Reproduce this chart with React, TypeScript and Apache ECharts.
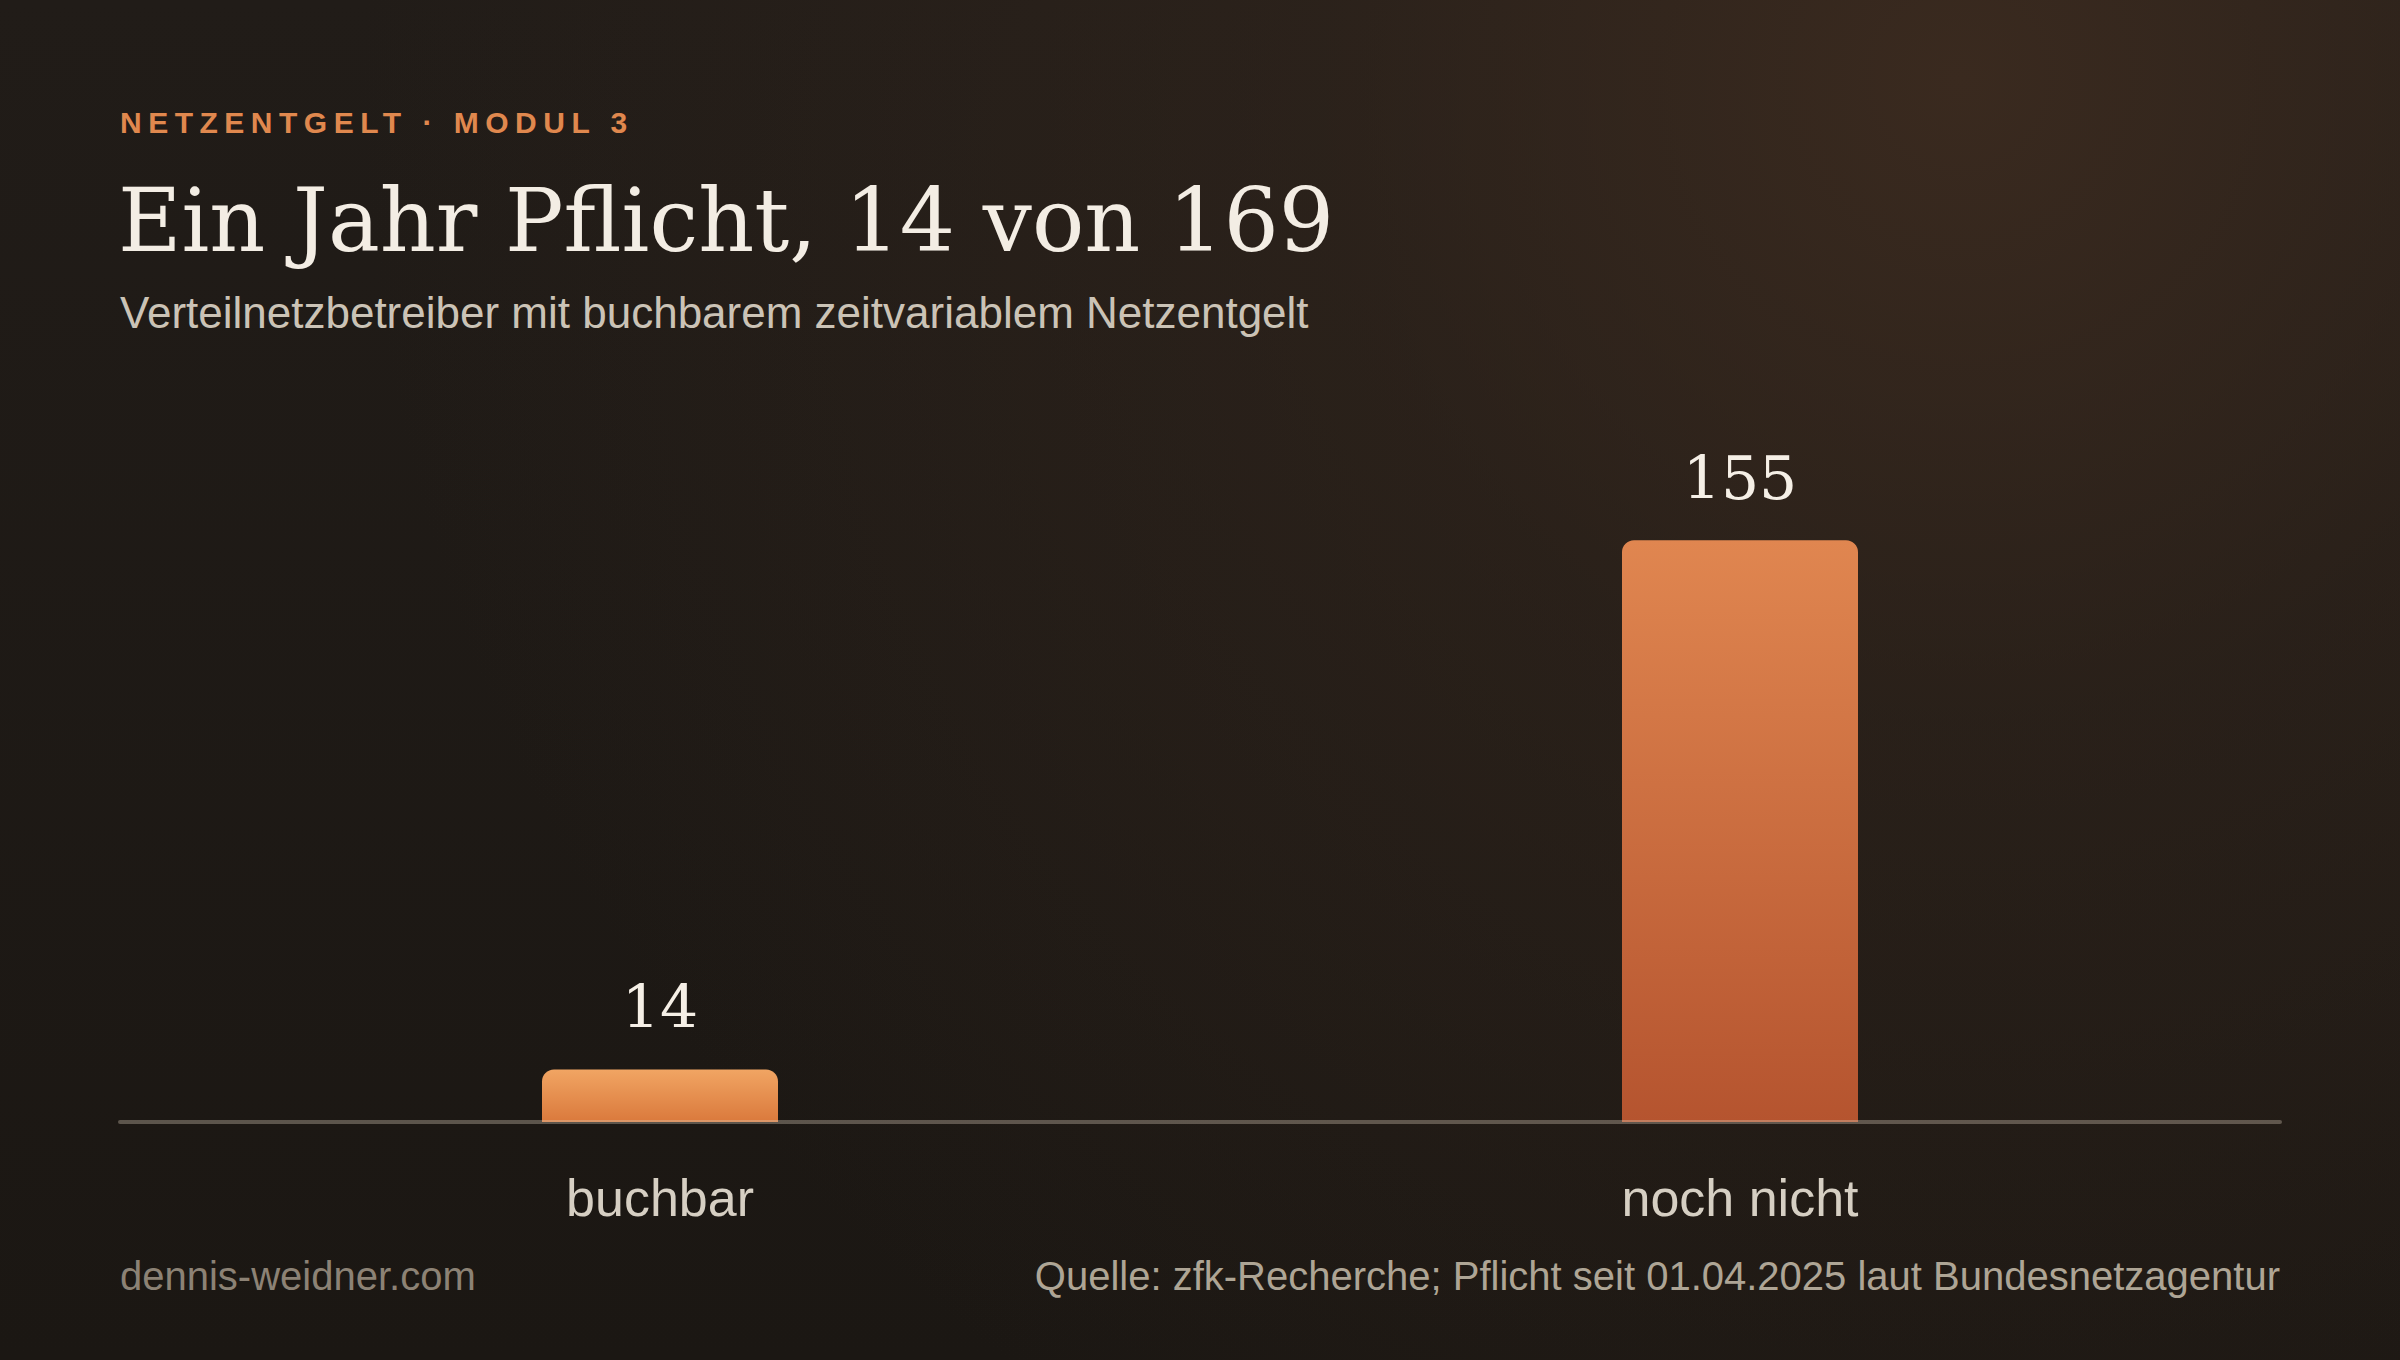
import React, { useEffect, useRef } from "react";
import * as echarts from "echarts";

const categories = ["buchbar", "noch nicht"];
const values = [14, 155];
const eyebrow = "NETZENTGELT · MODUL 3";
const title = "Ein Jahr Pflicht, 14 von 169";
const subtitle = "Verteilnetzbetreiber mit buchbarem zeitvariablem Netzentgelt";
const footerLeft = "dennis-weidner.com";
const footerRight = "Quelle: zfk-Recherche; Pflicht seit 01.04.2025 laut Bundesnetzagentur";

const SANS = "'Liberation Sans', Arial, Helvetica, sans-serif";
const SERIF = "'DejaVu Serif', Georgia, serif";

const barGradients = [
  ["#f1a563", "#da793c"],
  ["#e08650", "#b5542f"],
];

function buildOption() {
  return {
    animation: false,
    backgroundColor: "#1d1915",
    graphic: [
      {
        type: "rect",
        z: -20,
        silent: true,
        shape: { x: 0, y: 0, width: 2400, height: 1360 },
        style: {
          fill: new echarts.graphic.LinearGradient(0, 0, 0, 1, [
            { offset: 0, color: "#211c18" },
            { offset: 1, color: "#1b1713" },
          ]),
        },
      },
      {
        type: "rect",
        z: -19,
        silent: true,
        shape: { x: 0, y: 0, width: 2400, height: 1360 },
        style: {
          fill: new echarts.graphic.RadialGradient(
            1960,
            80,
            1600,
            [
              { offset: 0, color: "rgba(58,42,31,1)" },
              { offset: 0.4, color: "rgba(58,42,31,0.4)" },
              { offset: 1, color: "rgba(58,42,31,0)" },
            ],
            true
          ),
        },
      },
      {
        type: "text",
        x: 120,
        y: 122,
        silent: true,
        style: {
          text: eyebrow,
          fill: "#e0884e",
          fontSize: 30,
          fontWeight: "bold",
          fontFamily: SANS,
          textAlign: "left",
          textVerticalAlign: "middle",
        },
      },
      {
        type: "text",
        x: 118,
        y: 221,
        silent: true,
        style: {
          text: title,
          fill: "#f3ede4",
          fontSize: 87,
          fontFamily: SERIF,
          textAlign: "left",
          textVerticalAlign: "middle",
        },
      },
      {
        type: "text",
        x: 120,
        y: 312,
        silent: true,
        style: {
          text: subtitle,
          fill: "#cbc3b6",
          fontSize: 44,
          fontFamily: SANS,
          textAlign: "left",
          textVerticalAlign: "middle",
        },
      },
      {
        type: "text",
        x: 120,
        y: 1276,
        silent: true,
        style: {
          text: footerLeft,
          fill: "#8c8275",
          fontSize: 40,
          fontFamily: SANS,
          textAlign: "left",
          textVerticalAlign: "middle",
        },
      },
      {
        type: "text",
        x: 2280,
        y: 1276,
        silent: true,
        style: {
          text: footerRight,
          fill: "#aea595",
          fontSize: 40,
          fontFamily: SANS,
          textAlign: "right",
          textVerticalAlign: "middle",
        },
      },
    ],
    grid: { left: 120, right: 120, top: 484, bottom: 238, containLabel: false },
    xAxis: {
      type: "category",
      data: categories,
      z: 5,
      axisLine: { show: true, lineStyle: { color: "rgba(225,210,190,0.33)", width: 4 } },
      axisTick: { show: false },
      axisLabel: {
        color: "#d6cfc3",
        fontSize: 52,
        fontFamily: SANS,
        lineHeight: 52,
        margin: 50,
      },
      splitLine: { show: false },
    },
    yAxis: { type: "value", min: 0, max: 170, show: false, splitLine: { show: false } },
    series: [
      {
        type: "bar",
        silent: true,
        barWidth: 236,
        data: values.map((v, i) => ({
          value: v,
          itemStyle: {
            color: new echarts.graphic.LinearGradient(0, 0, 0, 1, [
              { offset: 0, color: barGradients[i][0] },
              { offset: 1, color: barGradients[i][1] },
            ]),
            borderRadius: [12, 12, 0, 0],
          },
        })),
        label: {
          show: true,
          position: "top",
          distance: 32,
          color: "#f5efe6",
          fontSize: 60,
          lineHeight: 60,
          fontFamily: SERIF,
        },
      },
    ],
  };
}

export default function App() {
  const ref = useRef<HTMLDivElement>(null);
  useEffect(() => {
    document.body.style.margin = "0";
    const el = ref.current!;
    const chart = echarts.init(el, null, { renderer: "svg" });
    chart.setOption(buildOption() as any);
    const apply = () => {
      el.querySelectorAll("text").forEach((t) => {
        if (t.textContent === eyebrow) t.setAttribute("letter-spacing", "6.5px");
      });
    };
    apply();
    chart.on("finished", apply);
    const raf = requestAnimationFrame(apply);
    const to = setTimeout(apply, 100);
    return () => {
      cancelAnimationFrame(raf);
      clearTimeout(to);
      chart.dispose();
    };
  }, []);
  return <div ref={ref} style={{ width: 2400, height: 1360 }} />;
}
